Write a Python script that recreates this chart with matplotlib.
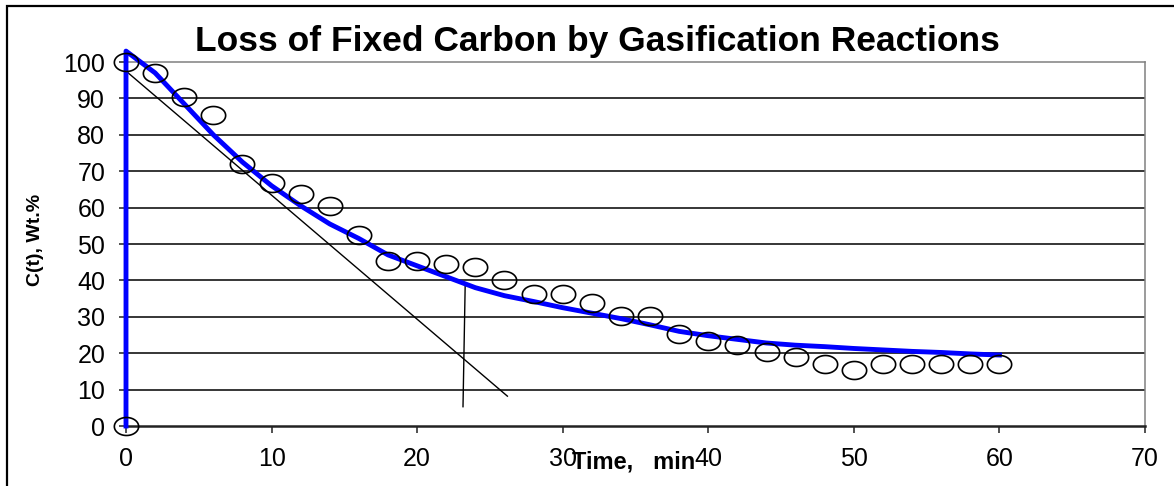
import numpy as np
import matplotlib
matplotlib.use("Agg")
import matplotlib.pyplot as plt
from matplotlib.path import Path
from matplotlib.patches import Rectangle

plt.rcParams['font.family'] = ['Liberation Sans', 'DejaVu Sans']

# measured points (circles)
t_data = [0, 0, 2, 4, 6, 8, 10, 12, 14, 16, 18, 20, 22, 24, 26, 28, 30, 32, 34, 36,
          38, 40, 42, 44, 46, 48, 50, 52, 54, 56, 58, 60]
c_data = [0, 100, 97, 90.5, 85.4, 72, 66.8, 63.6, 60.5, 52.5, 45.3, 45.3, 44.5, 43.8, 40.1, 36.4,
          36.4, 33.7, 30.2, 30.2, 25.2, 23.4, 22.3, 20.2, 19, 16.9, 15.4, 16.9, 16.9, 16.9,
          16.9, 16.9]

# model curve (blue)
t_model = [0, 0, 2, 4, 6, 8, 10, 12, 14, 16, 18, 20, 22, 24, 26, 28, 30, 32, 34, 36,
           38, 40, 42, 44, 46, 48, 50, 52, 54, 56, 58, 60]
c_model = [0, 103, 97, 88.5, 80, 72.5, 66, 60.5, 55.5, 51.5, 47, 44, 41, 38, 35.8, 34.2,
           32.5, 31, 29.5, 27.8, 26, 24.8, 23.8, 22.8, 22.2, 21.8, 21.3, 20.9, 20.5, 20.2,
           19.8, 19.5]

# initial-slope tangent and the marker line at t ~ 23
tan_t = [0.15, 26.2]
tan_c = [97, 8.2]
mark_t = [23.3, 23.15]
mark_c = [38.7, 5.3]

x_ticks = [0, 10, 20, 30, 40, 50, 60, 70]
y_ticks = [0, 10, 20, 30, 40, 50, 60, 70, 80, 90, 100]

W, H = 1174, 486
fig = plt.figure(figsize=(W / 100, H / 100), dpi=100)
ax = fig.add_axes([126 / W, 1 - 426 / H, (1145 - 126) / W, (426 - 62) / H])

# excel stretched the circles, so use a flat ellipse as marker
th = np.linspace(0, 2 * np.pi, 73)
ell = Path(np.column_stack([np.cos(th), 0.74 * np.sin(th)]), closed=True)

for y in y_ticks[1:-1]:
    ax.axhline(y, color='black', lw=1.1, zorder=1)

ax.plot(tan_t, tan_c, color='black', lw=1.0, zorder=2)
ax.plot(mark_t, mark_c, color='black', lw=1.0, zorder=2)
ax.plot(t_model, c_model, color='#0000ff', lw=3.5, zorder=3, clip_on=False,
        solid_joinstyle='round')
ax.plot(t_data, c_data, linestyle='none', marker=ell, markersize=17.5,
        markerfacecolor='none', markeredgecolor='black', markeredgewidth=1.2,
        zorder=4, clip_on=False)

ax.set_xlim(0, 70)
ax.set_ylim(0, 100)
ax.set_xticks(x_ticks)
ax.set_yticks(y_ticks)
ax.tick_params(axis='both', direction='out', length=5, width=1.1, colors='#222222',
               labelsize=18, labelcolor='black', pad=10)

for s in ['top', 'right']:
    ax.spines[s].set_color('#808080')
    ax.spines[s].set_linewidth(1.1)
ax.spines['left'].set_color('#222222')
ax.spines['left'].set_linewidth(1.1)
ax.spines['bottom'].set_color('#222222')
ax.spines['bottom'].set_linewidth(1.8)

fig.text(597 / W, 1 - 51 / H, 'Loss of Fixed Carbon by Gasification Reactions',
         ha='center', va='baseline', fontsize=25.5, fontweight='bold')
fig.text(35 / W, 1 - 240 / H, 'C(t), Wt.%', rotation=90, ha='center', va='center',
         fontsize=14, fontweight='bold')
fig.text(634 / W, 1 - 468 / H, 'Time,   min', ha='center', va='baseline',
         fontsize=17, fontweight='bold')

# outer chart frame
fig.patches.append(Rectangle((7 / W, -0.5), 2, 1.5 - 6 / H, transform=fig.transFigure,
                             fill=False, edgecolor='black', lw=1.6))

fig.savefig('out.png', dpi=100)
